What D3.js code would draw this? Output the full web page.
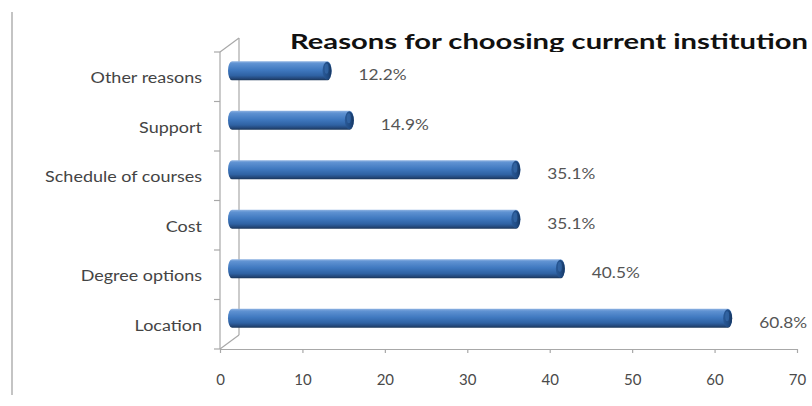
<!DOCTYPE html>
<html><head><meta charset="utf-8">
<script src="https://cdn.jsdelivr.net/npm/d3@7"></script>
<style>html,body{margin:0;padding:0;background:#fff;}svg{display:block;}</style>
</head><body>
<svg id="c" width="812" height="406"></svg>
<script>
const title = "Reasons for choosing current institution";
const categories = ["Other reasons","Support","Schedule of courses","Cost","Degree options","Location"];
const values = [12.2, 14.9, 35.1, 35.1, 40.5, 60.8];
const labels = ["12.2%","14.9%","35.1%","35.1%","40.5%","60.8%"];
const xTicks = [0,10,20,30,40,50,60,70];

const svg = d3.select("#c");
const font = "Lato, 'Open Sans', sans-serif";

const x = d3.scaleLinear().domain([0,70]).range([220,797]);
const y = d3.scaleBand().domain(categories).range([52,349]).paddingInner(0).paddingOuter(0);
const dx = 19, dy = -14; // 3D depth
const barH = 19;

// left border line
svg.append("line").attr("x1",12).attr("x2",12).attr("y1",12).attr("y2",395)
  .attr("stroke","#c4c4c4").attr("stroke-width",2);

// gradients
const defs = svg.append("defs");
const g1 = defs.append("linearGradient").attr("id","barG").attr("x1",0).attr("x2",0).attr("y1",0).attr("y2",1);
[["0%","#8fb3e2"],["12%","#5f92d2"],["45%","#4079c0"],["75%","#2f62a3"],["90%","#24497c"],["100%","#1a3558"]]
  .forEach(s=>g1.append("stop").attr("offset",s[0]).attr("stop-color",s[1]));
const g2 = defs.append("linearGradient").attr("id","capG").attr("x1",0).attr("x2",1).attr("y1",0).attr("y2",0);
[["0%","#2a5a98"],["60%","#1f4a82"],["100%","#16355e"]]
  .forEach(s=>g2.append("stop").attr("offset",s[0]).attr("stop-color",s[1]));
defs.append("clipPath").attr("id","tclip").append("rect").attr("x",0).attr("y",0).attr("width",812).attr("height",52);

// axes (3D frame)
const axisCol = "#a8a8a8";
const frame = svg.append("g").attr("stroke",axisCol).attr("stroke-width",1.2).attr("fill","none");
frame.append("line").attr("x1",x(0)).attr("x2",x(0)).attr("y1",y.range()[0]).attr("y2",y.range()[1]);
frame.append("line").attr("x1",x(0)+dx).attr("x2",x(0)+dx).attr("y1",y.range()[0]+dy).attr("y2",y.range()[1]+dy);
frame.append("line").attr("x1",x(0)).attr("x2",x(0)+dx).attr("y1",y.range()[0]).attr("y2",y.range()[0]+dy);
frame.append("line").attr("x1",x(0)).attr("x2",x(0)+dx).attr("y1",y.range()[1]).attr("y2",y.range()[1]+dy);

// left ticks
const yTickPos = categories.map(c=>y(c)).concat([y.range()[1]]);
frame.selectAll(".lt").data(yTickPos).enter().append("line")
  .attr("x1",x(0)-6).attr("x2",x(0)).attr("y1",d=>d).attr("y2",d=>d);

// bottom axis
const xAxis = d3.axisBottom(x).tickValues(xTicks).tickSize(4).tickSizeOuter(0).tickPadding(21);
const ax = svg.append("g").attr("transform",`translate(0,${y.range()[1]})`).call(xAxis);
ax.select(".domain").attr("stroke",axisCol).attr("stroke-width",1.2);
ax.selectAll(".tick line").attr("stroke",axisCol).attr("stroke-width",1.2);
ax.selectAll(".tick text").attr("font-family",font).attr("font-size",15).attr("fill","#4a4a4a");

// category labels
const catG = svg.append("g");
catG.selectAll("text").data(categories).enter().append("text")
  .attr("text-anchor","end").attr("font-family",font).attr("font-size",15).attr("fill","#444")
  .attr("transform",d=>`translate(202,${y(d)+y.bandwidth()/2+1}) scale(1,1)`)
  .attr("dy","0.35em").text(d=>d);
// horizontal stretch to match reference proportions
const refNode = catG.selectAll("text").filter(d=>d==="Schedule of courses").node();
const sxCat = 157/refNode.getComputedTextLength();
catG.selectAll("text").attr("transform",d=>`translate(202,${y(d)+y.bandwidth()/2+1}) scale(${sxCat},1)`);

// bars
const data = categories.map((c,i)=>({c, v:values[i], l:labels[i]}));
const bars = svg.append("g").selectAll("g").data(data).enter().append("g");
const barX0 = x(0)+8;
const cy = d => y(d.c)+y.bandwidth()/2 - 6;
bars.append("rect")
  .attr("x",barX0).attr("y",d=>cy(d)-barH/2)
  .attr("width",d=>x(d.v)+11-barX0).attr("height",barH)
  .attr("rx",4).attr("ry",barH/2).attr("fill","url(#barG)");
bars.append("ellipse")
  .attr("cx",d=>x(d.v)+11-4.5).attr("cy",d=>cy(d)).attr("rx",4.5).attr("ry",barH/2-0.5)
  .attr("fill","url(#capG)");
bars.append("ellipse")
  .attr("cx",d=>x(d.v)+11-5).attr("cy",d=>cy(d)-2).attr("rx",2).attr("ry",5)
  .attr("fill","#3a6fb0").attr("opacity",0.6);

// value labels
const vl = svg.append("g");
vl.selectAll("text").data(data).enter().append("text")
  .attr("font-family",font).attr("font-size",15).attr("fill","#555")
  .attr("dy","0.35em").text(d=>d.l)
  .attr("transform",d=>`translate(${x(d.v)+11+27},${cy(d)+4})`);
const sxV = 48/vl.select("text").node().getComputedTextLength();
vl.selectAll("text").attr("transform",d=>`translate(${x(d.v)+11+27},${cy(d)+4}) scale(${sxV},1)`);

// title
const t = svg.append("g").attr("clip-path","url(#tclip)").append("text")
  .attr("x",290).attr("y",49).attr("font-family",font).attr("font-weight","bold")
  .attr("font-size",21).attr("fill","#111").text(title);
t.attr("textLength",518).attr("lengthAdjust","spacingAndGlyphs");
</script>
</body></html>
